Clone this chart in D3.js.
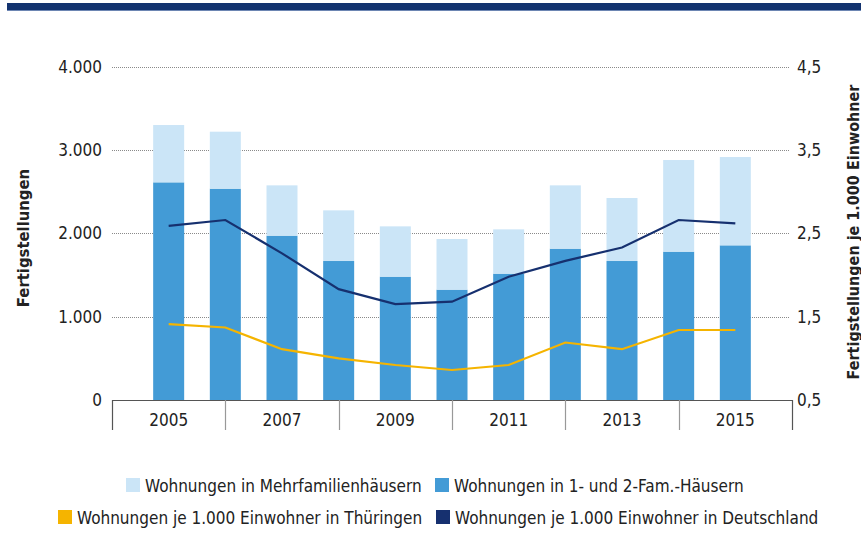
<!DOCTYPE html>
<html><head><meta charset="utf-8">
<script src="https://cdn.jsdelivr.net/npm/d3@7"></script>
<style>
html,body{margin:0;padding:0;background:#fff;}
svg text{font-family:"Liberation Sans Narrow","Arial Narrow","DejaVu Sans Condensed","Liberation Sans",sans-serif;fill:#222;}
</style></head>
<body><svg id="c" width="861" height="551"></svg>
<script>
const years = [2005,2006,2007,2008,2009,2010,2011,2012,2013,2014,2015];
const efh = [2612,2536,1972,1668,1480,1324,1516,1816,1668,1780,1856];
const mfh = [688,684,604,608,604,608,532,760,756,1100,1060];
const thueringen = [1.41,1.37,1.11,1.00,0.92,0.86,0.92,1.19,1.11,1.34,1.34];
const deutschland = [2.59,2.66,2.26,1.83,1.65,1.68,1.98,2.17,2.33,2.66,2.62];
const leftTicks = [0,1000,2000,3000,4000];
const rightTicks = [0.5,1.5,2.5,3.5,4.5];
const labelYears = [2005,2007,2009,2011,2013,2015];
const sepYears = [2004,2006,2008,2010,2012,2014,2016];

const C = {light:"#cbe5f7", dark:"#439bd6", navy:"#16306f", yellow:"#f5b400"};
const svg = d3.select("#c");
const x = d3.scaleLinear().domain([2004,2016]).range([112,792]);
const yL = d3.scaleLinear().domain([0,4000]).range([400,66.7]);
const yR = d3.scaleLinear().domain([0.5,4.5]).range([400,66.7]);
const de = d3.formatLocale({decimal:",",thousands:".",grouping:[3],currency:["","€"]});
const fL = de.format(",d"), fR = de.format(".1f");

// top band
svg.append("rect").attr("x",7).attr("y",3).attr("width",854).attr("height",8).attr("fill","#13336f");
svg.append("line").attr("x1",7).attr("x2",861).attr("y1",10.5).attr("y2",10.5).attr("stroke","#6d86b3").attr("stroke-width",1);

// grid
svg.append("g").selectAll("line").data(leftTicks.filter(d=>d>0)).join("line")
  .attr("x1",112).attr("x2",790).attr("y1",d=>Math.round(yL(d))+0.5).attr("y2",d=>Math.round(yL(d))+0.5)
  .attr("stroke","#8a8a8a").attr("stroke-width",1).attr("stroke-dasharray","1,1");

// bars
const bw = 31;
const g = svg.append("g");
g.selectAll(".e").data(years).join("rect")
  .attr("x",(d)=>x(d)-bw/2).attr("width",bw)
  .attr("y",(d,i)=>yL(efh[i])).attr("height",(d,i)=>yL(0)-yL(efh[i])).attr("fill",C.dark);
g.selectAll(".m").data(years).join("rect")
  .attr("x",(d)=>x(d)-bw/2).attr("width",bw)
  .attr("y",(d,i)=>yL(efh[i]+mfh[i])).attr("height",(d,i)=>yL(efh[i])-yL(efh[i]+mfh[i])).attr("fill",C.light);

// lines
const line = d3.line().x(d=>x(d[0])).y(d=>yR(d[1]));
svg.append("path").datum(years.map((y,i)=>[y,thueringen[i]])).attr("d",line)
  .attr("fill","none").attr("stroke",C.yellow).attr("stroke-width",2.2);
svg.append("path").datum(years.map((y,i)=>[y,deutschland[i]])).attr("d",line)
  .attr("fill","none").attr("stroke",C.navy).attr("stroke-width",2.2);

// x axis
svg.append("line").attr("x1",112).attr("x2",792).attr("y1",400.5).attr("y2",400.5).attr("stroke","#555");
svg.append("g").selectAll("line").data(sepYears).join("line")
  .attr("x1",d=>Math.round(x(d))+0.5).attr("x2",d=>Math.round(x(d))+0.5).attr("y1",400).attr("y2",430)
  .attr("stroke",(d,i)=>(i===0||i===sepYears.length-1)?"#555":"#999").attr("stroke-width",1.2);
svg.append("g").selectAll("text").data(labelYears).join("text")
  .attr("x",d=>x(d)).attr("y",420).attr("text-anchor","middle").attr("dominant-baseline","central")
  .attr("font-size",17).text(d=>d);

// left axis labels
svg.append("g").selectAll("text").data(leftTicks).join("text")
  .attr("x",102).attr("y",d=>yL(d)).attr("text-anchor","end").attr("dominant-baseline","central")
  .attr("font-size",17).text(d=>fL(d));
// right axis labels
svg.append("g").selectAll("text").data(rightTicks).join("text")
  .attr("x",797).attr("y",d=>yR(d)).attr("text-anchor","start").attr("dominant-baseline","central")
  .attr("font-size",17).text(d=>fR(d));

// axis titles
svg.append("text").attr("transform","translate(23,238) rotate(-90)").attr("text-anchor","middle")
  .attr("dominant-baseline","central").attr("font-size",16.5).attr("font-weight","bold").attr("fill","#1a1a1a").text("Fertigstellungen");
svg.append("text").attr("transform","translate(853,232) rotate(-90)").attr("text-anchor","middle")
  .attr("dominant-baseline","central").attr("font-size",16).attr("font-weight","bold").attr("fill","#1a1a1a").text("Fertigstellungen je 1.000 Einwohner");

// legend
const legend = [
  {label:"Wohnungen in Mehrfamilienhäusern", color:C.light, sx:126, sy:478},
  {label:"Wohnungen in 1- und 2-Fam.-Häusern", color:C.dark, sx:435, sy:478},
  {label:"Wohnungen je 1.000 Einwohner in Thüringen", color:C.yellow, sx:58, sy:510},
  {label:"Wohnungen je 1.000 Einwohner in Deutschland", color:C.navy, sx:436, sy:510}
];
const lg = svg.append("g").selectAll("g").data(legend).join("g");
lg.append("rect").attr("x",d=>d.sx).attr("y",d=>d.sy).attr("width",14).attr("height",14).attr("fill",d=>d.color);
lg.append("text").attr("x",d=>d.sx+19).attr("y",d=>d.sy+7.5).attr("dominant-baseline","central")
  .attr("font-size",17).text(d=>d.label);
</script></body></html>
